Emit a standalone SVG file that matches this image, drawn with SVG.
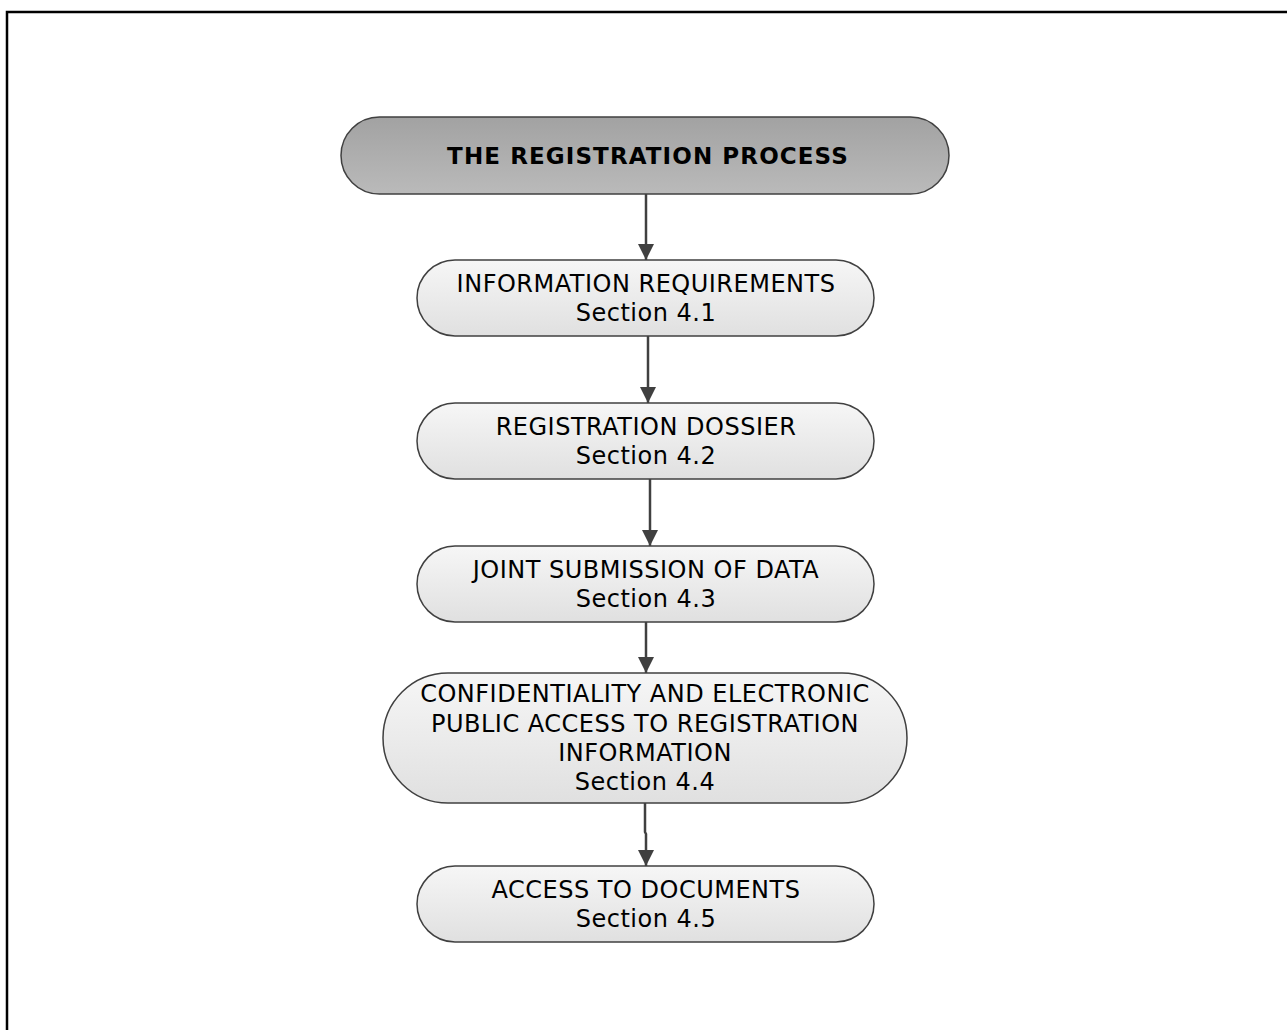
<svg xmlns="http://www.w3.org/2000/svg" width="1287" height="1030" viewBox="0 0 1287 1030">
  <defs>
    <linearGradient id="gLight" x1="0" y1="0" x2="0" y2="1">
      <stop offset="0" stop-color="#f6f6f6"/>
      <stop offset="1" stop-color="#e0e0e0"/>
    </linearGradient>
    <linearGradient id="gDark" x1="0" y1="0" x2="0" y2="1">
      <stop offset="0" stop-color="#a2a2a2"/>
      <stop offset="1" stop-color="#bababa"/>
    </linearGradient>
    <marker id="arrow" markerWidth="16" markerHeight="16" refX="16" refY="8" orient="auto" markerUnits="userSpaceOnUse">
      <path d="M0,0 L16,8 L0,16 Z" fill="#404040"/>
    </marker>
  </defs>
  <style>
    .frame { fill: none; stroke: #000; stroke-width: 2.5; }
    .node { fill: url(#gLight); stroke: #404040; stroke-width: 1.5; }
    .title { fill: url(#gDark); stroke: #404040; stroke-width: 1.5; }
    .lbl { font-family: "DejaVu Sans", Verdana, sans-serif; font-size: 24px; letter-spacing: 0.5px; fill: #000; text-anchor: middle; }
    .bold { font-weight: bold; font-size: 23px; letter-spacing: 1.1px; }
    .edge { stroke: #404040; stroke-width: 2.5; fill: none; marker-end: url(#arrow); }
  </style>

  <rect width="1287" height="1030" fill="#fff"/>
  <rect class="frame" x="7" y="12" width="1300" height="1040"/>

  <g id="connectors">
    <path class="edge" d="M646,194 L646,260"/>
    <path class="edge" d="M648,336 L648,403"/>
    <path class="edge" d="M650,479 L650,546"/>
    <path class="edge" d="M646,622 L646,673"/>
    <path class="edge" d="M645,803 L645,832 L646,834 L646,866"/>
  </g>

  <g id="node-registration-process">
    <rect class="title" x="341" y="117" width="608" height="77" rx="38.5"/>
    <text class="lbl bold" x="648" y="164">THE REGISTRATION PROCESS</text>
  </g>

  <g id="node-information-requirements">
    <rect class="node" x="417" y="260" width="457" height="76" rx="38"/>
    <text class="lbl" x="646" y="292">INFORMATION REQUIREMENTS</text>
    <text class="lbl" x="646" y="321">Section 4.1</text>
  </g>

  <g id="node-registration-dossier">
    <rect class="node" x="417" y="403" width="457" height="76" rx="38"/>
    <text class="lbl" x="646" y="435">REGISTRATION DOSSIER</text>
    <text class="lbl" x="646" y="464">Section 4.2</text>
  </g>

  <g id="node-joint-submission">
    <rect class="node" x="417" y="546" width="457" height="76" rx="38"/>
    <text class="lbl" x="646" y="578">JOINT SUBMISSION OF DATA</text>
    <text class="lbl" x="646" y="607">Section 4.3</text>
  </g>

  <g id="node-confidentiality">
    <rect class="node" x="383" y="673" width="524" height="130" rx="65"/>
    <text class="lbl" x="645" y="702">CONFIDENTIALITY AND ELECTRONIC</text>
    <text class="lbl" x="645" y="732">PUBLIC ACCESS TO REGISTRATION</text>
    <text class="lbl" x="645" y="761">INFORMATION</text>
    <text class="lbl" x="645" y="790">Section 4.4</text>
  </g>

  <g id="node-access-documents">
    <rect class="node" x="417" y="866" width="457" height="76" rx="38"/>
    <text class="lbl" x="646" y="898">ACCESS TO DOCUMENTS</text>
    <text class="lbl" x="646" y="927">Section 4.5</text>
  </g>
</svg>
